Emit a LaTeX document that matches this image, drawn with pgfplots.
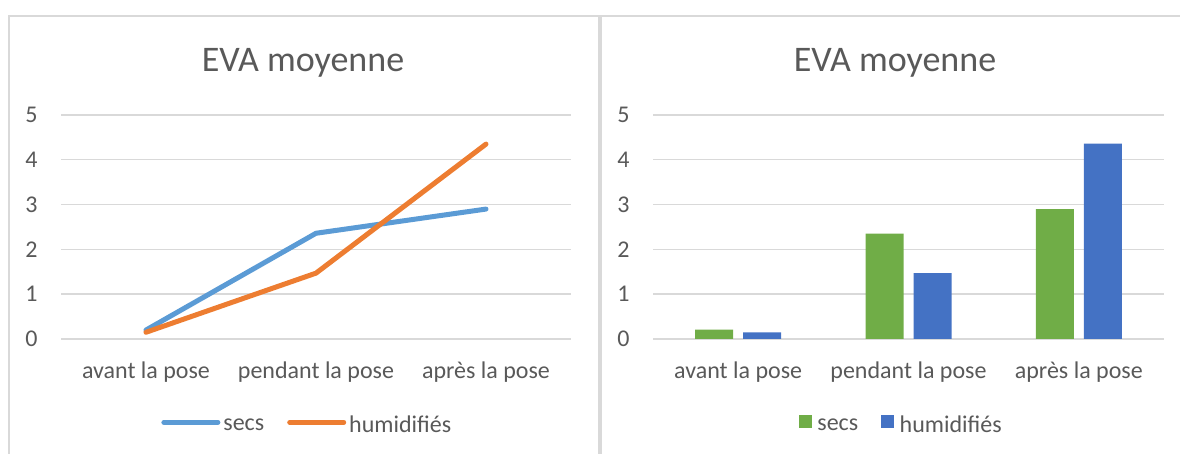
\documentclass[border=0pt]{standalone}
\usepackage{fontspec}
\setmainfont{Carlito}
\usepackage{pgfplots}
\pgfplotsset{compat=1.18}
\definecolor{txt}{HTML}{595959}
\definecolor{gridc}{HTML}{D9D9D9}
\definecolor{lblue}{HTML}{5B9BD5}
\definecolor{lorange}{HTML}{ED7D31}
\definecolor{bgreen}{HTML}{70AD47}
\definecolor{bblue}{HTML}{4472C4}
\pgfplotsset{evastyle/.style={
  scale only axis, width=255pt, height=112pt,
  xmin=-0.5, xmax=2.5, ymin=0, ymax=5,
  xtick={0,1,2}, xticklabels={avant la pose, pendant la pose, après la pose},
  ytick={0,1,2,3,4,5},
  ymajorgrids, grid style={gridc, line width=0.7pt},
  major tick length=0pt,
  axis line style={draw=none},
  tick label style={font=\fontsize{12}{14}\selectfont, text=txt, inner sep=0pt},
  /pgf/number format/assume math mode=true,
  yticklabel style={anchor=east, xshift=-11.5pt},
  xticklabel style={anchor=north, yshift=-11pt},
  title style={font=\fontsize{18}{21}\selectfont, text=txt, anchor=base, at={(0.4745,1.14)}},
  title={EVA moyenne},
  legend columns=2,
  legend style={draw=none, fill=none, font=\fontsize{12}{14}\selectfont, text=txt, anchor=center, inner sep=0pt,
    nodes={inner sep=1.5pt},
    /tikz/every even column/.append style={column sep=10pt}},
  clip=false,
}}
\begin{document}
\begin{tikzpicture}
\useasboundingbox (0,0) rectangle (590pt,227pt);
% frame
\draw[gridc, line width=1.2pt] (4pt,219pt) -- (590pt,219pt);
\draw[gridc, line width=1.2pt] (4.5pt,219pt) -- (4.5pt,0pt);
\draw[gridc, line width=1.8pt] (300pt,219pt) -- (300pt,0pt);
% left chart
\begin{axis}[evastyle, at={(30.5pt,57.5pt)}, anchor=south west,
  legend style={at={(0.484,-0.388)}},
  legend image code/.code={\draw[#1, line cap=round] (0pt,1.8pt) -- (27pt,1.8pt);}]
\addplot[lblue, line width=2.5pt, line cap=round, line join=round] coordinates {(0,0.20) (1,2.36) (2,2.90)};
\addlegendentry{secs}
\addplot[lorange, line width=2.5pt, line cap=round, line join=round] coordinates {(0,0.15) (1,1.47) (2,4.35)};
\addlegendentry{humidifiés}
\end{axis}
% right chart
\begin{axis}[evastyle, at={(326.5pt,57.5pt)}, anchor=south west, width=255.5pt,
  ybar=5pt, bar width=19pt,
  title style={at={(0.4736,1.14)}},
  legend style={at={(0.487,-0.388)}},
  legend image code/.code={\fill[#1] (-1.2pt,-1.2pt) rectangle (5.3pt,5.3pt); \path (6.5pt,0pt);}]
\addplot[bgreen, fill=bgreen, draw=none] coordinates {(0,0.21) (1,2.35) (2,2.90)};
\addlegendentry{secs}
\addplot[bblue, fill=bblue, draw=none] coordinates {(0,0.15) (1,1.47) (2,4.36)};
\addlegendentry{humidifiés}
\end{axis}
\end{tikzpicture}
\end{document}
